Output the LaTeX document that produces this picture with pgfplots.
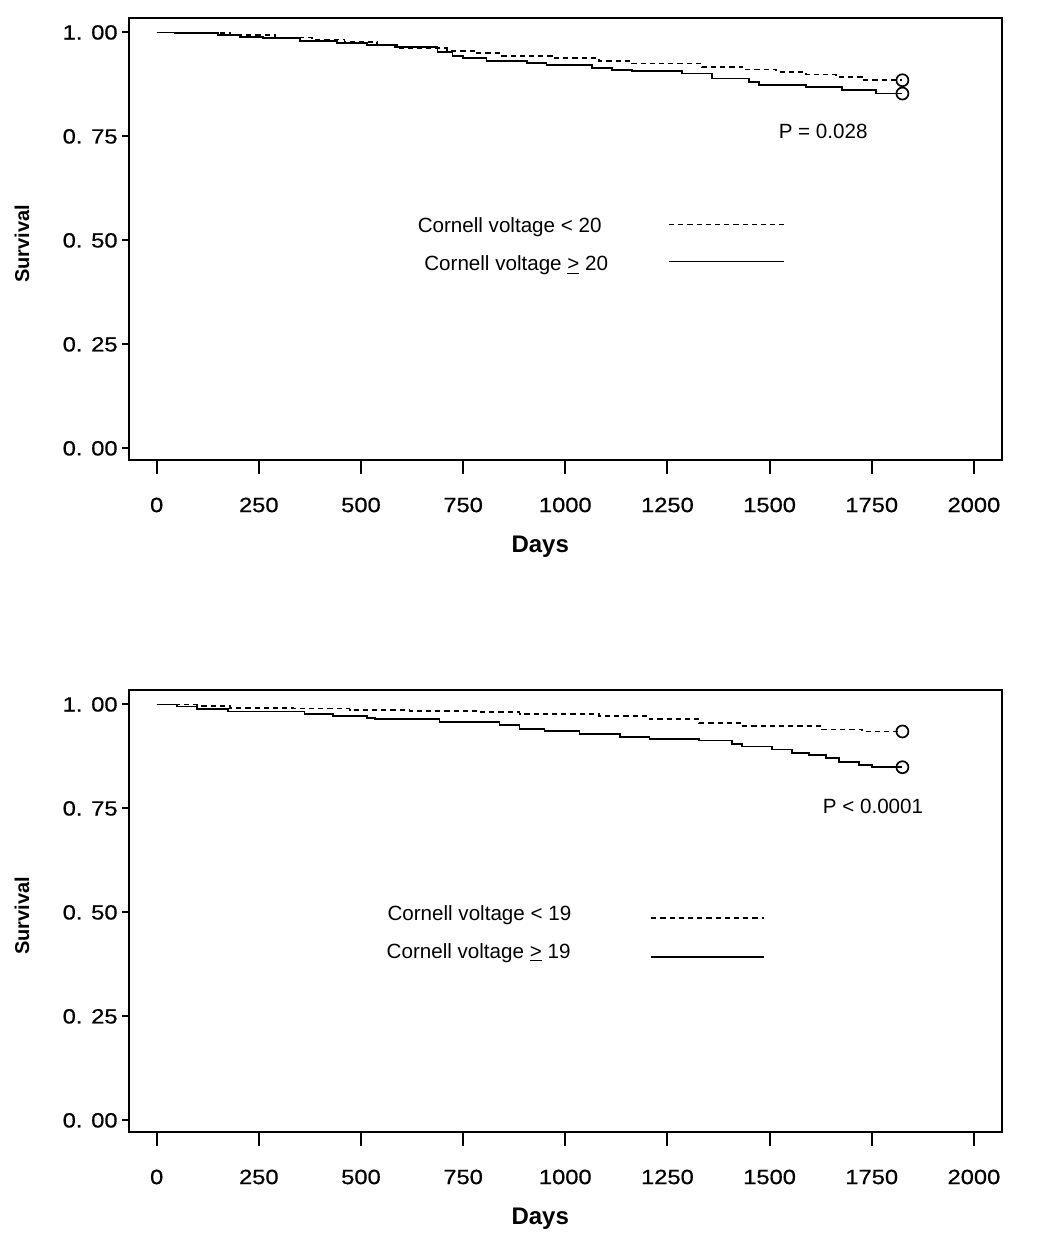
\documentclass[border=0pt]{standalone}
\usepackage{fontspec}
\setmainfont{Liberation Sans}
\newfontfamily\tickfont[FakeStretch=1.15,FakeBold=0.6]{Liberation Sans}
\usepackage{pgfplots}
\usepackage{pgfplotstable}
\pgfplotsset{compat=1.18}

% Kaplan-Meier steps (days, survival)
\pgfplotstableread{
d s
0 1.000
50 0.998
180 0.994
290 0.988
380 0.983
460 0.977
540 0.970
595 0.962
710 0.956
778 0.950
840 0.944
969 0.938
1083 0.931
1157 0.925
1335 0.917
1433 0.911
1516 0.905
1589 0.899
1662 0.893
1726 0.885
1825 0.885
}\topdash
\pgfplotstableread{
d s
0 1.000
45 0.998
150 0.994
204 0.989
260 0.986
350 0.979
441 0.974
514 0.969
582 0.965
687 0.953
724 0.944
749 0.938
807 0.932
907 0.927
954 0.921
1066 0.915
1115 0.910
1164 0.907
1286 0.901
1359 0.889
1450 0.881
1474 0.873
1589 0.868
1677 0.861
1760 0.853
1825 0.853
}\topsolid
\pgfplotstableread{
d s
0 1.000
98 0.997
179 0.992
333 0.990
472 0.987
619 0.984
790 0.981
888 0.977
1083 0.972
1206 0.965
1328 0.955
1433 0.948
1628 0.940
1726 0.935
1825 0.935
}\botdash
\pgfplotstableread{
d s
0 1.000
49 0.995
98 0.989
174 0.983
362 0.977
431 0.972
514 0.967
534 0.965
692 0.958
839 0.951
888 0.941
949 0.936
1035 0.929
1133 0.922
1206 0.917
1328 0.913
1408 0.905
1433 0.899
1506 0.892
1555 0.884
1597 0.879
1638 0.871
1670 0.862
1719 0.855
1750 0.849
1825 0.849
}\botsolid

\tikzset{dashline/.style={dash pattern=on 2.6pt off 2pt}}
\pgfplotsset{
  km/.style={
    scale only axis, width=436.2pt, height=220.85pt,
    xmin=-67, xmax=2068, ymin=-0.028, ymax=1.034,
    axis line style={line width=1pt},
    tick style={line width=1pt, black},
    tick align=outside,
    major tick length=3.5pt,
    xtick=\empty,
    extra x ticks={0,250,...,2000},
    extra x tick labels={0,250,500,750,1000,1250,1500,1750,2000},
    extra x tick style={major tick length=7pt, tick style={line width=1pt, black}},
    ytick={0,0.25,0.5,0.75,1},
    yticklabels={0. 00,0. 25,0. 50,0. 75,1. 00},
    xtick pos=bottom, ytick pos=left,
    xticklabel style={font=\tickfont\fontsize{10.3}{12}\selectfont, anchor=center, inner sep=0pt, yshift=-15.5pt},
    yticklabel style={font=\tickfont\fontsize{10.3}{12}\selectfont, anchor=east, inner sep=0pt, xshift=-2.15pt},
    xlabel={Days}, ylabel={Survival},
    xlabel style={font=\bfseries\fontsize{12}{14}\selectfont, at={(axis description cs:0.471,0)}, anchor=center, yshift=-43.5pt},
    ylabel style={font=\bfseries\fontsize{10}{12}\selectfont, at={(axis description cs:-0.123,0.489)}, anchor=center},
    every axis plot/.append style={black, line width=0.85pt},
    clip=false,
  },
}

\begin{document}
\begin{tikzpicture}
\path[use as bounding box] (0,0) rectangle (520pt,625.5pt);

\begin{axis}[km, at={(64.65pt,616.35pt)}, anchor=north west]
\addplot[const plot, dashline] table[x=d, y=s] {\topdash};
\addplot[const plot] table[x=d, y=s] {\topsolid};
\addplot[only marks, mark=o, mark size=3pt] coordinates {(1825,0.885) (1825,0.853)};
\node[font=\fontsize{10.3}{12}\selectfont] at (axis cs:1631,0.763) {P = 0.028};
\node[font=\fontsize{10.3}{12}\selectfont, anchor=west, inner sep=0pt] at (axis cs:638,0.531) {Cornell voltage < 20};
\node[font=\fontsize{10.3}{12}\selectfont, anchor=west, inner sep=0pt] at (axis cs:654,0.441) {Cornell voltage \underline{>} 20};
\draw[black, line width=0.8pt, dashline] (axis cs:1254,0.538) -- (axis cs:1534,0.538);
\draw[black, line width=0.8pt] (axis cs:1254,0.449) -- (axis cs:1534,0.449);
\end{axis}

\begin{axis}[km, at={(64.65pt,280.35pt)}, anchor=north west]
\addplot[const plot, dashline] table[x=d, y=s] {\botdash};
\addplot[const plot] table[x=d, y=s] {\botsolid};
\addplot[only marks, mark=o, mark size=3pt] coordinates {(1825,0.935) (1825,0.849)};
\node[font=\fontsize{10.3}{12}\selectfont] at (axis cs:1753,0.756) {P < 0.0001};
\node[font=\fontsize{10.3}{12}\selectfont, anchor=west, inner sep=0pt] at (axis cs:564,0.494) {Cornell voltage < 19};
\node[font=\fontsize{10.3}{12}\selectfont, anchor=west, inner sep=0pt] at (axis cs:562,0.403) {Cornell voltage \underline{>} 19};
\draw[black, line width=0.8pt, dashline] (axis cs:1210,0.486) -- (axis cs:1487,0.486);
\draw[black, line width=0.8pt] (axis cs:1210,0.393) -- (axis cs:1487,0.393);
\end{axis}
\end{tikzpicture}
\end{document}
